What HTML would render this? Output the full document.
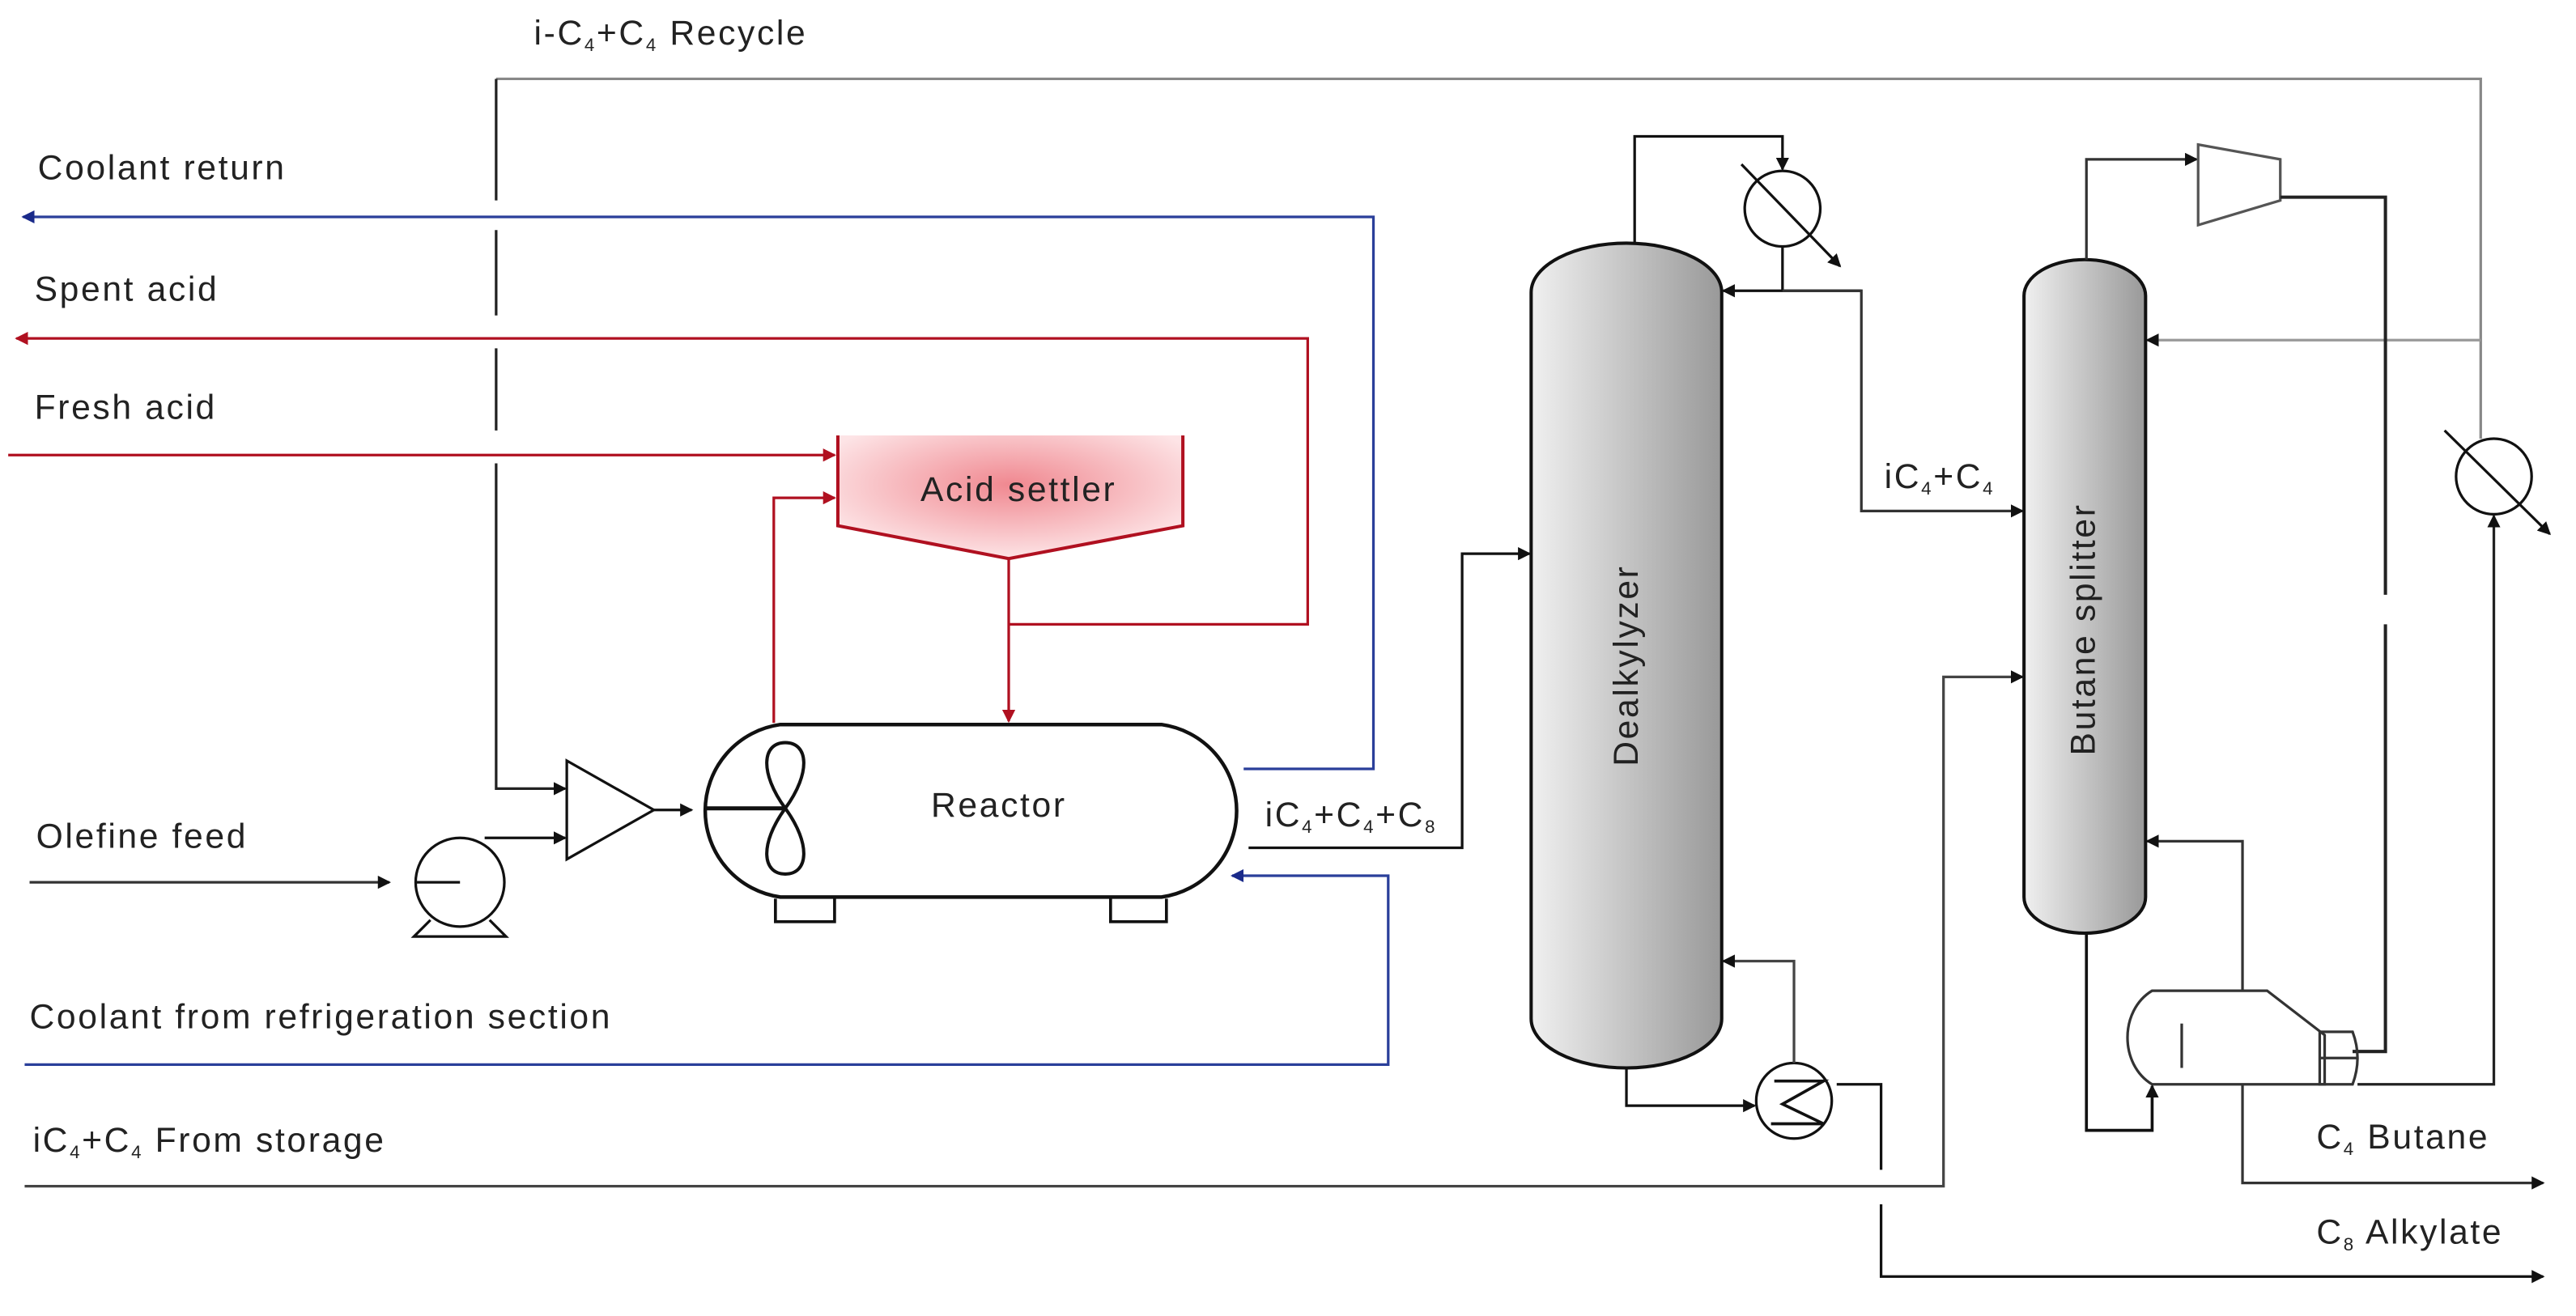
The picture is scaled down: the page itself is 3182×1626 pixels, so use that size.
<!DOCTYPE html>
<html><head><meta charset="utf-8"><style>
html,body{margin:0;padding:0;background:#fff}
svg{display:block}
text{font-family:"Liberation Sans",sans-serif;font-size:21px;letter-spacing:1.3px;fill:#222}
</style></head><body>
<svg width="3182" height="1626" viewBox="0 0 1568 801" preserveAspectRatio="none" xmlns="http://www.w3.org/2000/svg">
<defs>
<marker id="ak" markerWidth="8" markerHeight="8" refX="7" refY="4" orient="auto" markerUnits="userSpaceOnUse"><path d="M0,0 L8,4 L0,8 z" fill="#111"/></marker>
<marker id="ar" markerWidth="8" markerHeight="8" refX="7" refY="4" orient="auto" markerUnits="userSpaceOnUse"><path d="M0,0 L8,4 L0,8 z" fill="#b01020"/></marker>
<marker id="ab" markerWidth="8" markerHeight="8" refX="7" refY="4" orient="auto" markerUnits="userSpaceOnUse"><path d="M0,0 L8,4 L0,8 z" fill="#1a2a8a"/></marker>
<linearGradient id="col" x1="0" x2="1" y1="0" y2="0"><stop offset="0" stop-color="#f0f0f0"/><stop offset="1" stop-color="#999"/></linearGradient>
<radialGradient id="pink" cx="0.5" cy="0.4" r="0.6"><stop offset="0" stop-color="#f08890"/><stop offset="1" stop-color="#fde4e6"/></radialGradient>
</defs>
<g fill="none" stroke-width="1.6">
<path d="M302,48 H1510 V267" stroke="#888"/>
<path d="M302,48 V122 M302,140 V192 M302,212 V262 M302,282 V480 H344" stroke="#222" marker-end="url(#ak)"/>
<path d="M1510,207 H1307" stroke="#999" marker-end="url(#ak)"/>
<path d="M757,468 H836 V132 H14" stroke="#2a3f9a" marker-end="url(#ab)"/>
<path d="M614,380 H796 V206 H10" stroke="#b01020" marker-end="url(#ar)"/>
<path d="M5,277 H508" stroke="#b01020" marker-end="url(#ar)"/>
<path d="M471,440 V303 H508" stroke="#b01020" marker-end="url(#ar)"/>
<path d="M614,340 V439" stroke="#b01020" marker-end="url(#ar)"/>
<path d="M510,265 V320 L614,340 L720,320 V265" fill="url(#pink)" stroke="#b01020" stroke-width="2"/>
<path d="M475,441 H707 A53,53 0 0 1 707,546 H475 A53,53 0 0 1 475,441 z" fill="#fff" stroke="#111" stroke-width="2.2"/>
<path d="M472,547 V561 H508 V547 M676,547 V561 H710 V547" stroke="#111" stroke-width="1.8"/>
<path d="M430,492 H478" stroke="#111" stroke-width="2.5"/>
<path d="M478,492 C462,470 464,452 478,452 C492,452 494,470 478,492 C462,514 464,532 478,532 C492,532 494,514 478,492 z" stroke="#111" stroke-width="2"/>
<path d="M345,463 V523 L398,493 z" stroke="#111" fill="#fff"/>
<path d="M398,493 H421" stroke="#111" marker-end="url(#ak)"/>
<path d="M295,510 H344" stroke="#111" marker-end="url(#ak)"/>
<path d="M18,537 H237" stroke="#333" marker-end="url(#ak)"/>
<circle cx="280" cy="537" r="27" stroke="#111" fill="#fff"/>
<path d="M253,537 H280" stroke="#111"/>
<path d="M262,560 L252,570 H308 L298,560" stroke="#111"/>
<path d="M15,648 H845 V533 H750" stroke="#2a3f9a" marker-end="url(#ab)"/>
<path d="M15,722 H1183 V412 H1231" stroke="#444" marker-end="url(#ak)"/>
<path d="M760,516 H890 V337 H931" stroke="#111" marker-end="url(#ak)"/>
<path d="M932,178 A58,30 0 0 1 1048,178 V620 A58,30 0 0 1 932,620 z" fill="url(#col)" stroke="#111" stroke-width="2"/>
<path d="M995,148 V83 H1085 V103" stroke="#111" marker-end="url(#ak)"/>
<circle cx="1085" cy="127" r="23" stroke="#111" fill="#fff"/>
<path d="M1060,100 L1120,162" stroke="#111" marker-end="url(#ak)"/>
<path d="M1085,150 V177 M1133,177 H1049" stroke="#111" marker-end="url(#ak)"/>
<path d="M1085,177 H1133 V311 H1231" stroke="#333" marker-end="url(#ak)"/>
<path d="M990,650 V673 H1068" stroke="#111" marker-end="url(#ak)"/>
<circle cx="1092" cy="670" r="23" stroke="#111" fill="#fff"/>
<path d="M1080,658 H1110 L1085,672 L1110,684 H1078" stroke="#111" stroke-width="1.8"/>
<path d="M1092,647 V585 H1049" stroke="#444" marker-end="url(#ak)"/>
<path d="M1118,660 H1145 V712 M1145,733 V777 H1548" stroke="#111" marker-end="url(#ak)"/>
<path d="M1232,180 A37,22 0 0 1 1306,180 V546 A37,22 0 0 1 1232,546 z" fill="url(#col)" stroke="#111" stroke-width="2"/>
<path d="M1270,158 V97 H1337" stroke="#333" marker-end="url(#ak)"/>
<path d="M1338,88 L1388,97 V122 L1338,137 z" stroke="#555" fill="#fff"/>
<path d="M1388,120 H1452 V362 M1452,380 V640 H1432" stroke="#222" stroke-width="2"/>
<circle cx="1518" cy="290" r="23" stroke="#111" fill="#fff"/>
<path d="M1488,262 L1552,325" stroke="#111" marker-end="url(#ak)"/>
<path d="M1435,660 H1518 V314" stroke="#222" marker-end="url(#ak)"/>
<path d="M1310,603 H1380 L1415,630 V660 H1310 C1290,648 1290,615 1310,603 z" stroke="#333" fill="#fff"/>
<path d="M1412,628 H1432 Q1438,644 1432,660 H1412 z M1412,644 H1435" stroke="#333"/>
<path d="M1328,623 V650" stroke="#333"/>
<path d="M1365,603 V512 H1307" stroke="#333" marker-end="url(#ak)"/>
<path d="M1270,568 V688 H1310 V661" stroke="#111" stroke-width="1.8" marker-end="url(#ak)"/>
<path d="M1365,660 V720 H1548" stroke="#333" marker-end="url(#ak)"/>
</g>
<text x="325" y="27">i-C<tspan font-size="11" dy="4">4</tspan><tspan dy="-4">+C</tspan><tspan font-size="11" dy="4">4</tspan><tspan dy="-4"> Recycle</tspan></text>
<text x="23" y="109">Coolant return</text>
<text x="21" y="183">Spent acid</text>
<text x="21" y="255">Fresh acid</text>
<text x="620" y="305" text-anchor="middle">Acid settler</text>
<text x="608" y="497" text-anchor="middle">Reactor</text>
<text x="22" y="516">Olefine feed</text>
<text x="18" y="626">Coolant from refrigeration section</text>
<text x="20" y="701">iC<tspan font-size="11" dy="4">4</tspan><tspan dy="-4">+C</tspan><tspan font-size="11" dy="4">4</tspan><tspan dy="-4"> From storage</tspan></text>
<text x="770" y="503">iC<tspan font-size="11" dy="4">4</tspan><tspan dy="-4">+C</tspan><tspan font-size="11" dy="4">4</tspan><tspan dy="-4">+C</tspan><tspan font-size="11" dy="4">8</tspan></text>
<text x="1147" y="297">iC<tspan font-size="11" dy="4">4</tspan><tspan dy="-4">+C</tspan><tspan font-size="11" dy="4">4</tspan></text>
<text x="1410" y="699">C<tspan font-size="11" dy="4">4</tspan><tspan dy="-4"> Butane</tspan></text>
<text x="1410" y="757">C<tspan font-size="11" dy="4">8</tspan><tspan dy="-4"> Alkylate</tspan></text>
<text transform="translate(997,405) rotate(-90)" text-anchor="middle" fill="#444">Dealkylyzer</text>
<text transform="translate(1275,383) rotate(-90)" text-anchor="middle">Butane splitter</text>
</svg>
</body></html>
